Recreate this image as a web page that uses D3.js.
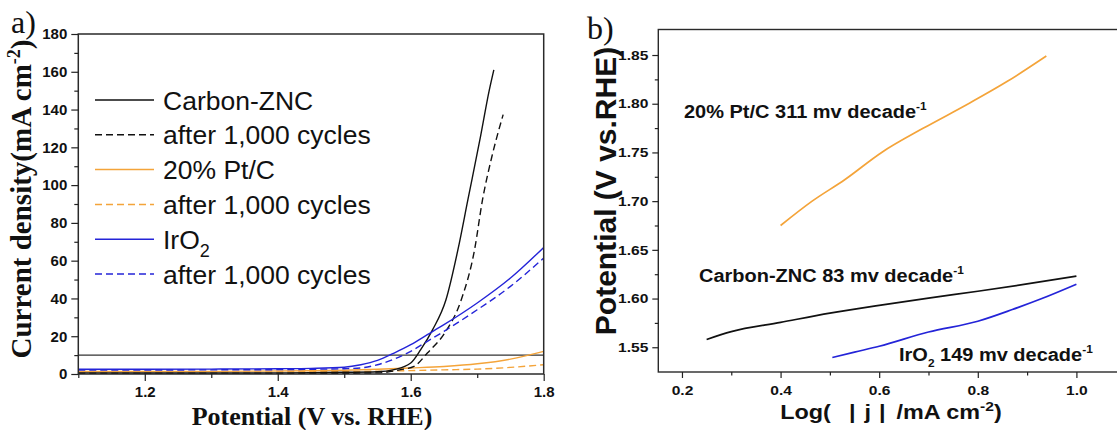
<!DOCTYPE html>
<html>
<head>
<meta charset="utf-8">
<script src="https://cdn.jsdelivr.net/npm/d3@7"></script>
<style>
  html, body { margin: 0; padding: 0; background: #fff; }
  svg { display: block; }
</style>
</head>
<body>
<svg id="fig" width="1117" height="430"></svg>
<script>
// ---------- Panel a: polarization curves (potential in V vs. RHE, current density in mA cm^-2) ----------
const zncV  = [1.10, 1.20, 1.30, 1.40, 1.45, 1.50, 1.55, 1.575, 1.60, 1.615, 1.633, 1.653, 1.671, 1.686, 1.705, 1.718, 1.725];
const zncJ  = [0.6, 0.5, 0.5, 0.6, 0.7, 0.9, 1.2, 2.3, 5.8, 12.9, 23.5, 39.3, 65.8, 92.3, 125.8, 150, 161];
const zncCycledV = [1.10, 1.30, 1.50, 1.55, 1.585, 1.605, 1.625, 1.651, 1.676, 1.696, 1.708, 1.722, 1.739];
const zncCycledJ = [0.3, 0.3, 0.4, 0.6, 2.3, 4.0, 11.1, 21.7, 39.3, 65.8, 92.3, 115, 137.3];
const ptcV  = [1.10, 1.30, 1.45, 1.50, 1.55, 1.60, 1.65, 1.70, 1.75, 1.80];
const ptcJ  = [1.3, 1.4, 1.7, 2.0, 2.5, 3.2, 4.0, 5.4, 7.9, 12.0];
const ptcCycledV = [1.10, 1.30, 1.50, 1.60, 1.65, 1.70, 1.75, 1.80];
const ptcCycledJ = [1.1, 1.1, 1.3, 1.8, 2.2, 2.6, 3.5, 4.9];
const iro2V = [1.10, 1.20, 1.30, 1.40, 1.45, 1.50, 1.525, 1.55, 1.575, 1.60, 1.625, 1.65, 1.70, 1.75, 1.80];
const iro2J = [2.5, 2.5, 2.6, 2.8, 3.0, 3.6, 4.9, 7.2, 11.1, 15.5, 20.8, 26.1, 37.6, 50.8, 67.0];
const iro2CycledV = [1.10, 1.20, 1.30, 1.40, 1.45, 1.50, 1.525, 1.55, 1.575, 1.60, 1.625, 1.65, 1.70, 1.75, 1.80];
const iro2CycledJ = [2.1, 2.1, 2.2, 2.3, 2.5, 2.8, 3.2, 4.9, 7.9, 12.0, 17.3, 22.6, 34.0, 46.4, 61.4];
const referenceCurrent = 10;   // 10 mA cm^-2 benchmark line

const potentialMajorTicks = [1.2, 1.4, 1.6, 1.8];
const potentialMinorTicks = [1.1, 1.3, 1.5, 1.7];
const currentMajorTicks = [0, 20, 40, 60, 80, 100, 120, 140, 160, 180];
const currentMinorTicks = [10, 30, 50, 70, 90, 110, 130, 150, 170];

const legendLabels = ["Carbon-ZNC", "after 1,000 cycles", "20% Pt/C", "after 1,000 cycles", "IrO", "after 1,000 cycles"];

// ---------- Panel b: Tafel plots ----------
const tafelZncLogJ = [0.25, 0.30, 0.40, 0.50, 0.60, 0.70, 0.80, 0.90, 1.00];
const tafelZncE    = [1.558, 1.566, 1.5755, 1.585, 1.593, 1.6005, 1.6075, 1.615, 1.623];
const tafelPtcLogJ = [0.40, 0.464, 0.53, 0.605, 0.69, 0.781, 0.86, 0.939];
const tafelPtcE    = [1.675, 1.700, 1.722, 1.750, 1.775, 1.800, 1.823, 1.849];
const tafelIro2LogJ = [0.505, 0.55, 0.60, 0.70, 0.80, 0.87, 0.93, 1.00];
const tafelIro2E    = [1.5395, 1.545, 1.551, 1.5657, 1.5767, 1.5887, 1.600, 1.6147];

const tafelXMajorTicks = [0.2, 0.4, 0.6, 0.8, 1.0];
const tafelXMinorTicks = [0.3, 0.5, 0.7, 0.9];
const tafelYMajorTicks = [1.55, 1.60, 1.65, 1.70, 1.75, 1.80, 1.85];
const tafelYMinorTicks = [1.575, 1.625, 1.675, 1.725, 1.775, 1.825];

// ---------- styling ----------
const BLACK = "#111111", ORANGE = "#F4A43A", BLUE = "#2424D8";
const DASH = "7,4";
const SANS = "'Liberation Sans', Arial, Helvetica, sans-serif";
const SERIF = "'Liberation Serif', 'Times New Roman', serif";
const WIDE = 1.2;   // panel b lettering is set slightly wide

const svg = d3.select("#fig");

function zip(xs, ys) { return xs.map((x, i) => [x, ys[i]]); }

// major (labelled) and minor ticks for one side of a frame
function drawTicks(g, axisFn, scale, majors, minors, majorLen, minorLen, fmt, pad, fontSize, stretch) {
  const major = g.append("g").call(axisFn(scale).tickValues(majors).tickSize(majorLen).tickPadding(pad).tickFormat(fmt));
  const minor = g.append("g").call(axisFn(scale).tickValues(minors).tickSize(minorLen).tickFormat(""));
  [major, minor].forEach(s => {
    s.select(".domain").remove();
    s.selectAll("line").attr("stroke", "#222").attr("stroke-width", 1.2);
  });
  const labels = major.selectAll("text")
    .attr("fill", "#111")
    .style("font-family", SANS)
    .style("font-weight", "bold")
    .style("font-size", fontSize + "px");
  if (stretch && stretch !== 1) {
    labels.each(function () {
      const t = d3.select(this);
      const x = +t.attr("x") || 0;
      t.attr("x", x / stretch).attr("transform", `scale(${stretch},1)`);
    });
  }
  return major;
}

// ================= Panel a =================
const A = { left: 78.3, right: 543.7, top: 34, bottom: 374 };
const xA = d3.scaleLinear().domain([1.1, 1.8]).range([A.left, A.right]);
const yA = d3.scaleLinear().domain([0, 180]).range([A.bottom, A.top]);

svg.append("clipPath").attr("id", "clipA")
  .append("rect").attr("x", A.left).attr("y", A.top)
  .attr("width", A.right - A.left).attr("height", A.bottom - A.top);

const gA = svg.append("g");
const lineA = d3.line().x(d => xA(d[0])).y(d => yA(d[1])).curve(d3.curveMonotoneX);

const plotA = gA.append("g").attr("clip-path", "url(#clipA)");
plotA.append("line")
  .attr("x1", xA(1.1)).attr("x2", xA(1.8))
  .attr("y1", yA(referenceCurrent)).attr("y2", yA(referenceCurrent))
  .attr("stroke", "#333").attr("stroke-width", 1.2);

const seriesA = [
  { v: ptcCycledV, j: ptcCycledJ, color: ORANGE, dash: DASH },
  { v: ptcV, j: ptcJ, color: ORANGE, dash: null },
  { v: zncCycledV, j: zncCycledJ, color: BLACK, dash: DASH },
  { v: zncV, j: zncJ, color: BLACK, dash: null },
  { v: iro2CycledV, j: iro2CycledJ, color: BLUE, dash: DASH },
  { v: iro2V, j: iro2J, color: BLUE, dash: null }
];
seriesA.forEach(s => {
  plotA.append("path")
    .attr("d", lineA(zip(s.v, s.j)))
    .attr("fill", "none")
    .attr("stroke", s.color)
    .attr("stroke-width", 1.4)
    .attr("stroke-dasharray", s.dash);
});

gA.append("rect")
  .attr("x", A.left).attr("y", A.top)
  .attr("width", A.right - A.left).attr("height", A.bottom - A.top)
  .attr("fill", "none").attr("stroke", "#2a2a2a").attr("stroke-width", 1.5);

drawTicks(gA.append("g").attr("transform", `translate(0,${A.bottom})`), d3.axisBottom, xA,
  potentialMajorTicks, potentialMinorTicks, 7, 4, d3.format(".1f"), 5.5, 15, 1);
drawTicks(gA.append("g").attr("transform", `translate(${A.left},0)`), d3.axisLeft, yA,
  currentMajorTicks, currentMinorTicks, 7, 4, d3.format("d"), 4, 15, 1);

// legend
const legendColors = [BLACK, BLACK, ORANGE, ORANGE, BLUE, BLUE];
const legendDashed = [false, true, false, true, false, true];
const legend = gA.append("g");
legendLabels.forEach((label, i) => {
  const cy = 100 + i * 34.8;
  legend.append("line")
    .attr("x1", 95).attr("x2", 154).attr("y1", cy).attr("y2", cy)
    .attr("stroke", legendColors[i]).attr("stroke-width", 1.5)
    .attr("stroke-dasharray", legendDashed[i] ? DASH : null);
  const t = legend.append("text")
    .attr("x", 163).attr("y", cy + 9.5)
    .style("font-family", SANS).style("font-size", "26.5px").attr("fill", "#111")
    .text(label);
  if (label === "IrO") {
    t.append("tspan").attr("dy", 8).style("font-size", "18px").text("2");
  }
});

// panel a titles
svg.append("text")
  .attr("x", 11).attr("y", 33)
  .style("font-family", SERIF).style("font-size", "32px").attr("fill", "#111")
  .text("a)");

const yTitleA = svg.append("text")
  .attr("transform", "translate(31,199) rotate(-90)")
  .attr("text-anchor", "middle")
  .style("font-family", SERIF).style("font-weight", "bold").style("font-size", "29px").attr("fill", "#111");
yTitleA.append("tspan").text("Current density(mA cm");
yTitleA.append("tspan").attr("dy", -11).style("font-size", "18px").text("-2");
yTitleA.append("tspan").attr("dy", 11).text(")");

svg.append("text")
  .attr("x", 312).attr("y", 425).attr("text-anchor", "middle")
  .style("font-family", SERIF).style("font-weight", "bold").style("font-size", "26px").attr("fill", "#111")
  .text("Potential (V vs. RHE)");

// ================= Panel b =================
const B = { left: 658.3, right: 1130, top: 29.5, bottom: 372 };
const xB = d3.scaleLinear().domain([0.152, 1.1087]).range([B.left, B.right]);
const yB = d3.scaleLinear().domain([1.5246, 1.8762]).range([B.bottom, B.top]);

svg.append("clipPath").attr("id", "clipB")
  .append("rect").attr("x", B.left).attr("y", B.top)
  .attr("width", B.right - B.left).attr("height", B.bottom - B.top);

const gB = svg.append("g");
const lineB = d3.line().x(d => xB(d[0])).y(d => yB(d[1])).curve(d3.curveMonotoneX);
const plotB = gB.append("g").attr("clip-path", "url(#clipB)");

const seriesB = [
  { x: tafelPtcLogJ, y: tafelPtcE, color: ORANGE },
  { x: tafelZncLogJ, y: tafelZncE, color: BLACK },
  { x: tafelIro2LogJ, y: tafelIro2E, color: BLUE }
];
seriesB.forEach(s => {
  plotB.append("path")
    .attr("d", lineB(zip(s.x, s.y)))
    .attr("fill", "none").attr("stroke", s.color).attr("stroke-width", 1.7);
});

gB.append("rect")
  .attr("x", B.left).attr("y", B.top)
  .attr("width", B.right - B.left).attr("height", B.bottom - B.top)
  .attr("fill", "none").attr("stroke", "#2a2a2a").attr("stroke-width", 1.4);

drawTicks(gB.append("g").attr("transform", `translate(0,${B.bottom})`), d3.axisBottom, xB,
  tafelXMajorTicks, tafelXMinorTicks, 6, 3.5, d3.format(".1f"), 8, 13, WIDE);
drawTicks(gB.append("g").attr("transform", `translate(${B.left},0)`), d3.axisLeft, yB,
  tafelYMajorTicks, tafelYMinorTicks, 6, 3.5, d3.format(".2f"), 4, 13, WIDE);

// Tafel slope annotations
function annotate(x, y, parts) {
  const t = svg.append("text")
    .attr("transform", `translate(${x},${y}) scale(1.08,1)`)
    .style("font-family", SANS).style("font-weight", "bold").style("font-size", "18.5px").attr("fill", "#111");
  parts.forEach(p => {
    const ts = t.append("tspan").text(p.text);
    if (p.sup) ts.attr("dy", -8).style("font-size", "11px");
    if (p.sub) ts.attr("dy", 6).style("font-size", "11px");
    if (p.reset) ts.attr("dy", p.reset);
  });
}
annotate(684, 118, [{ text: "20% Pt/C 311 mv decade" }, { text: "-1", sup: true }]);
annotate(699, 282, [{ text: "Carbon-ZNC 83 mv decade" }, { text: "-1", sup: true }]);
annotate(899, 361, [{ text: "IrO" }, { text: "2", sub: true }, { text: " 149 mv decade", reset: -6 }, { text: "-1", sup: true }]);

svg.append("text")
  .attr("x", 587).attr("y", 39)
  .style("font-family", SERIF).style("font-size", "32px").attr("fill", "#111")
  .text("b)");

svg.append("text")
  .attr("transform", "translate(616,191) rotate(-90)")
  .attr("text-anchor", "middle")
  .style("font-family", SANS).style("font-weight", "bold").style("font-size", "30px").attr("fill", "#111")
  .text("Potential (V vs.RHE)");

// x title: Log(|j|/mA cm^-2), bars set apart from the j
const xTitleB = svg.append("text")
  .attr("transform", `translate(891,418.5) scale(${WIDE},1)`)
  .attr("text-anchor", "middle")
  .style("font-family", SANS).style("font-weight", "bold").style("font-size", "19.5px").attr("fill", "#111");
xTitleB.append("tspan").text("Log(");
xTitleB.append("tspan").attr("dx", 18 / WIDE).text("|");
xTitleB.append("tspan").attr("dx", 9 / WIDE).text("j");
xTitleB.append("tspan").attr("dx", 8 / WIDE).text("|");
xTitleB.append("tspan").attr("dx", 11 / WIDE).text("/mA cm");
xTitleB.append("tspan").attr("dy", -8).style("font-size", "13px").text("-2");
xTitleB.append("tspan").attr("dy", 8).text(")");
</script>
</body>
</html>
